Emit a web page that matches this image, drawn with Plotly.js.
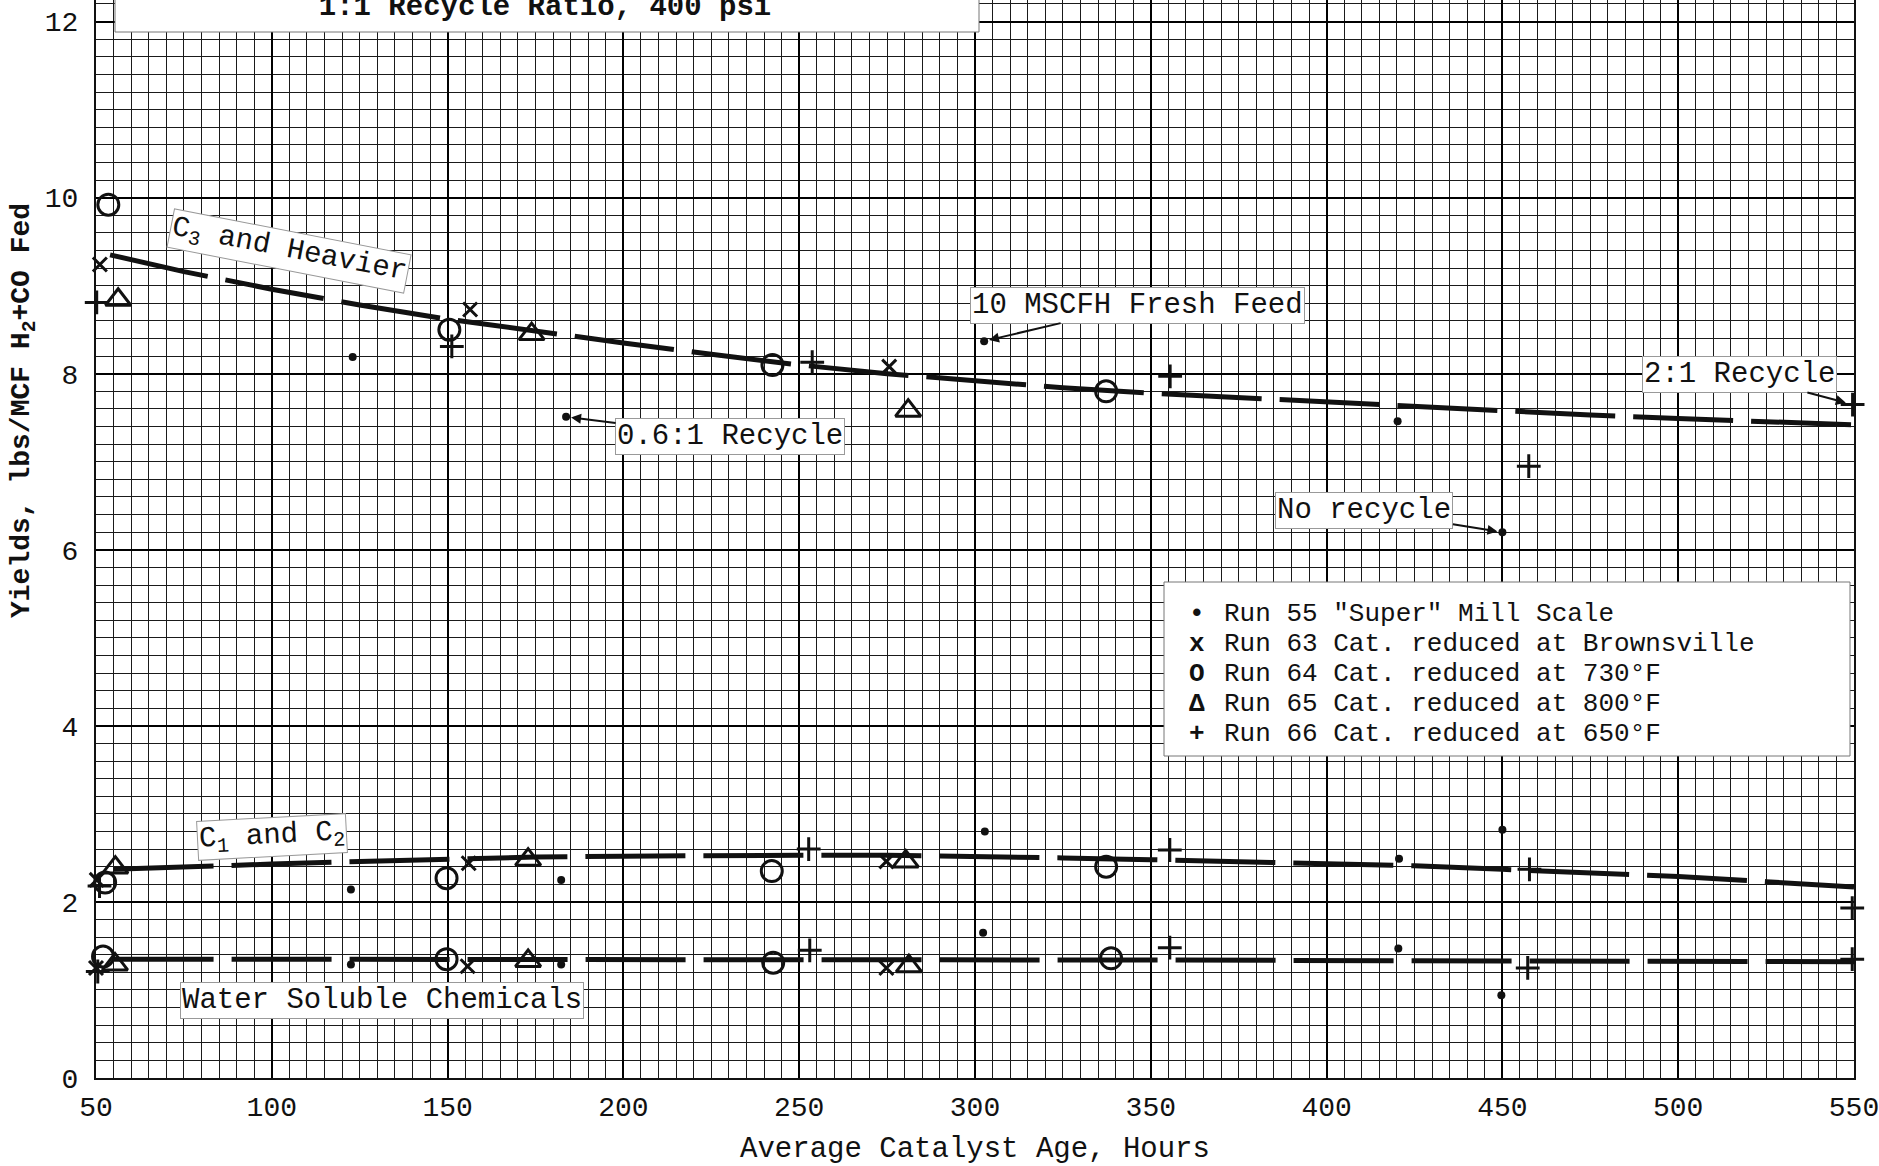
<!DOCTYPE html>
<html>
<head>
<meta charset="utf-8">
<script src="https://cdn.plot.ly/plotly-3.0.1.min.js"></script>
<style>html,body{margin:0;padding:0;background:#fff;}#chart{width:1879px;height:1166px;}</style>
</head>
<body>
<div id="chart"></div>
<script>
// ---------- fitted curves ----------
const c3CurveX = [54, 75, 100, 125, 150, 175, 200, 225, 250, 275, 300, 325, 350, 375, 400, 425, 450, 475, 500, 525, 550];
const c3CurveY = [9.35, 9.16, 8.96, 8.78, 8.62, 8.48, 8.35, 8.22, 8.10, 8.00, 7.92, 7.84, 7.78, 7.73, 7.68, 7.62, 7.57, 7.53, 7.49, 7.45, 7.42];
const c1CurveX = [55, 75, 100, 125, 150, 175, 200, 225, 250, 275, 300, 325, 350, 375, 400, 425, 450, 475, 500, 525, 550];
const c1CurveY = [2.37, 2.40, 2.43, 2.46, 2.49, 2.51, 2.52, 2.53, 2.53, 2.53, 2.52, 2.50, 2.48, 2.46, 2.44, 2.41, 2.37, 2.33, 2.29, 2.23, 2.17];
const wsCurveX = [55, 150, 250, 350, 450, 550];
const wsCurveY = [1.35, 1.35, 1.34, 1.34, 1.33, 1.32];

// ---------- data points: [C3 and heavier, C1 and C2, water soluble] ----------
const run55X = [123, 183.7, 302.6, 420.2, 450, 122.5, 182.3, 302.8, 420.6, 450, 122.5, 182.3, 302.3, 420.4, 449.7];
const run55Y = [8.19, 7.51, 8.37, 7.46, 6.20, 2.14, 2.25, 2.80, 2.49, 2.82, 1.29, 1.29, 1.65, 1.47, 0.94];
const run63X = [51.1, 156.4, 275.6, 50.2, 156, 274.8, 50, 155.7, 274.8];
const run63Y = [9.24, 8.73, 8.08, 2.25, 2.44, 2.46, 1.25, 1.27, 1.25];
const run64X = [53.5, 150.5, 242.4, 337.3, 52.6, 149.7, 242.2, 337.3, 52, 149.7, 242.6, 338.7];
const run64Y = [9.92, 8.50, 8.10, 7.80, 2.22, 2.27, 2.35, 2.40, 1.38, 1.35, 1.31, 1.36];
const run65X = [56.3, 173.9, 281, 55.5, 172.9, 280.3, 55.4, 172.9, 281.2];
const run65Y = [8.84, 8.45, 7.58, 2.39, 2.48, 2.46, 1.29, 1.33, 1.27];
const run66X = [50.2, 151.2, 253.7, 355.5, 457.5, 549.6, 51, 252.7, 355.4, 457.7, 549.5, 50.5, 253, 355.4, 457.2, 549.5];
const run66Y = [8.81, 8.31, 8.13, 7.97, 6.95, 7.65, 2.18, 2.60, 2.59, 2.37, 1.93, 1.21, 1.45, 1.48, 1.25, 1.35];

// ---------- text ----------
const chartTitle = '1:1 Recycle Ratio, 400 psi';
const xTitle = 'Average Catalyst Age, Hours';
const yTitle = 'Yields, lbs/MCF H<sub>2</sub>+CO Fed';
const legendSymbols = ['•', 'x', 'O', 'Δ', '+'];
const legendLabels = ['Run 55 "Super" Mill Scale', 'Run 63 Cat. reduced at Brownsville', 'Run 64 Cat. reduced at 730°F', 'Run 65 Cat. reduced at 800°F', 'Run 66 Cat. reduced at 650°F'];

const FONT = 'Liberation Mono, DejaVu Sans Mono, monospace';
const INK = '#111';

function curve(x, y, name) {
  return {x: x, y: y, name: name, type: 'scatter', mode: 'lines', showlegend: false, hoverinfo: 'skip',
          line: {color: INK, width: 5, dash: '100px,18px'}};
}
function pts(x, y, name, symbol, size, lw) {
  return {x: x, y: y, name: name, type: 'scatter', mode: 'markers', cliponaxis: false,
          marker: {symbol: symbol, size: size, color: INK, line: {color: INK, width: lw}}};
}

const traces = [
  curve(c3CurveX, c3CurveY, 'C3 and Heavier'),
  curve(c1CurveX, c1CurveY, 'C1 and C2'),
  curve(wsCurveX, wsCurveY, 'Water Soluble Chemicals'),
  pts(run55X, run55Y, legendLabels[0], 'circle', 8, 0),
  pts(run63X, run63Y, legendLabels[1], 'x-thin', 14, 3),
  pts(run64X, run64Y, legendLabels[2], 'circle-open', 21, 3),
  pts(run65X, run65Y, legendLabels[3], 'triangle-up-open', 22, 3),
  pts(run66X, run66Y, legendLabels[4], 'cross-thin', 17, 3)
];

const W = 1879, H = 1166, ML = 96, MR = 25, MT = 0, MB = 88;
const PW = W - ML - MR, PH = H - MT - MB;
const px = v => (v - ML) / PW;          // pixel -> paper x
const py = v => 1 - (v - MT) / PH;      // pixel -> paper y

const labelStyle = {font: {family: FONT, size: 29, color: INK}, bgcolor: '#fff', bordercolor: '#999', borderwidth: 1, borderpad: 1};

const annotations = [
  Object.assign({xref: 'x', yref: 'y', x: 104.9, y: 9.39, text: 'C<sub>3</sub> and Heavier', textangle: 11, showarrow: false}, labelStyle),
  Object.assign({xref: 'x', yref: 'y', x: 100.1, y: 2.74, text: 'C<sub>1</sub> and C<sub>2</sub>', textangle: -3, showarrow: false}, labelStyle),
  Object.assign({xref: 'x', yref: 'y', x: 131.3, y: 0.88, text: 'Water Soluble Chemicals', showarrow: false}, labelStyle),
  Object.assign({xref: 'x', yref: 'y', x: run55X[2], y: run55Y[2], text: '10 MSCFH Fresh Feed', showarrow: true, ax: 153, ay: -36,
    arrowhead: 2, arrowwidth: 2, arrowcolor: INK, standoff: 5}, labelStyle),
  Object.assign({xref: 'x', yref: 'y', x: run55X[1], y: run55Y[1], text: '0.6:1 Recycle', showarrow: true, ax: 164, ay: 20,
    arrowhead: 2, arrowwidth: 2, arrowcolor: INK, standoff: 5}, labelStyle),
  Object.assign({xref: 'x', yref: 'y', x: run55X[4], y: run55Y[4], text: 'No recycle', showarrow: true, ax: -138, ay: -22,
    arrowhead: 2, arrowwidth: 2, arrowcolor: INK, standoff: 5}, labelStyle),
  Object.assign({xref: 'x', yref: 'y', x: run66X[5], y: run66Y[5], text: '2:1 Recycle', showarrow: true, ax: -113, ay: -30,
    arrowhead: 2, arrowwidth: 2, arrowcolor: INK, standoff: 7}, labelStyle),
  {xref: 'paper', yref: 'paper', x: px(24), y: py(411), xanchor: 'center', yanchor: 'middle', text: yTitle, textangle: -90, showarrow: false,
   font: {family: FONT, size: 28, color: INK, weight: 'bold'}}
];

const rowY = [614, 644, 674, 704, 734];
legendLabels.forEach((t, i) => {
  annotations.push({xref: 'paper', yref: 'paper', x: px(1224), y: py(rowY[i]), xanchor: 'left', yanchor: 'middle',
    text: t, showarrow: false, borderpad: 0, borderwidth: 0, font: {family: FONT, size: 26, color: INK}});
  annotations.push({xref: 'paper', yref: 'paper', x: px(1197), y: py(rowY[i]), xanchor: 'center', yanchor: 'middle',
    text: legendSymbols[i], showarrow: false, borderpad: 0, borderwidth: 0, font: {family: FONT, size: 26, color: INK, weight: 'bold'}});
});

const shapes = [
  {type: 'rect', xref: 'paper', yref: 'paper', x0: px(115), x1: px(979), y0: py(32), y1: 1.02, layer: 'above',
   fillcolor: '#fff', line: {color: '#777', width: 1}},
  {type: 'rect', xref: 'paper', yref: 'paper', x0: px(1164), x1: px(1850), y0: py(756), y1: py(582), layer: 'above',
   fillcolor: '#fff', line: {color: '#777', width: 1}}
];

const layout = {
  width: W, height: H,
  margin: {l: ML, r: MR, t: MT, b: MB, pad: 0},
  paper_bgcolor: '#fff', plot_bgcolor: '#fff',
  showlegend: false,
  font: {family: FONT, color: INK},
  title: {text: chartTitle, x: 545 / W, xanchor: 'center', xref: 'container', yref: 'container', y: 1 - 5 / H, yanchor: 'middle',
          font: {family: FONT, size: 29, color: INK, weight: 'bold'}},
  xaxis: {range: [50, 550], tick0: 50, dtick: 50, ticks: '', showline: true, linecolor: INK, linewidth: 2, mirror: false,
          showgrid: true, gridcolor: '#000', gridwidth: 2, zeroline: false, ticklabelstandoff: 2, ticklabeloverflow: 'allow',
          tickfont: {family: FONT, size: 28, color: INK},
          minor: {dtick: 5, showgrid: true, gridcolor: '#1a1a1a', gridwidth: 1},
          title: {text: xTitle, standoff: 26, font: {family: FONT, size: 29, color: INK}}},
  yaxis: {range: [0, 12.245], tick0: 0, dtick: 2, ticks: '', showline: true, linecolor: INK, linewidth: 2, mirror: true,
          showgrid: true, gridcolor: '#000', gridwidth: 2, zeroline: false, ticklabelstandoff: 10,
          tickfont: {family: FONT, size: 28, color: INK},
          minor: {dtick: 0.2, showgrid: true, gridcolor: '#1a1a1a', gridwidth: 1}},
  annotations: annotations,
  shapes: shapes
};

Plotly.newPlot('chart', traces, layout, {displayModeBar: false, staticPlot: true});
</script>
</body>
</html>
